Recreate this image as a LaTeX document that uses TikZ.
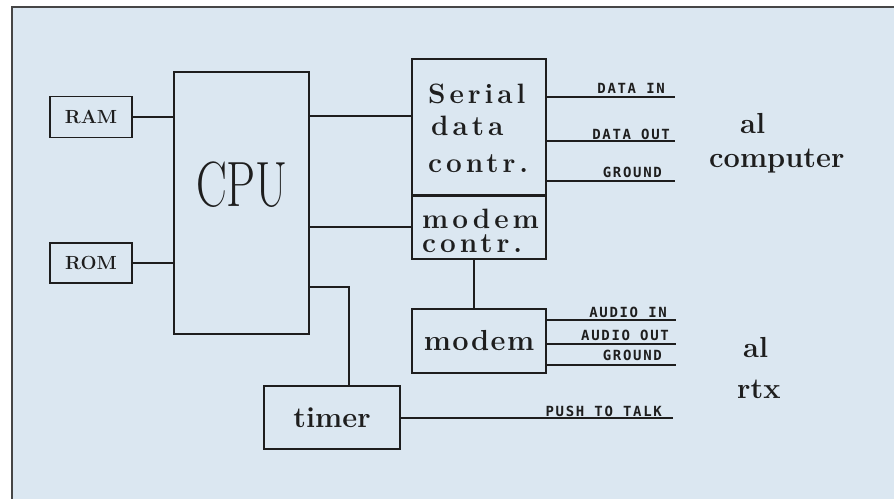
\documentclass[tikz,border=0pt]{standalone}
\usepackage{fontspec}
\usepackage{graphicx}
\setmainfont{Latin Modern Roman}
\newfontfamily\wfont[LetterSpace=14]{Latin Modern Roman}
\newfontfamily\mfont[LetterSpace=5]{Latin Modern Roman}
\newfontfamily\pfont[LetterSpace=12]{DejaVu Sans Mono}
\definecolor{panel}{RGB}{219,231,241}
\definecolor{ink}{RGB}{30,30,30}
\definecolor{frame}{RGB}{70,70,70}
\tikzset{
  box/.style={draw=ink, line width=1.8pt, inner sep=0pt, text=ink},
  wire/.style={draw=ink, line width=2pt},
  sig/.style={font=\pfont\bfseries\fontsize{14}{14}\selectfont, text=ink, inner sep=0pt, anchor=base east},
  wtxt/.style={font=\wfont\bfseries\fontsize{28}{28}\selectfont, text=ink, inner sep=0pt, anchor=base west},
  btxt/.style={font=\bfseries\fontsize{29}{29}\selectfont, text=ink, inner sep=0pt, anchor=base west},
}
\begin{document}
\begin{tikzpicture}[x=1pt,y=-1pt]
\useasboundingbox (0,0) rectangle (894,498);
\fill[white] (0,0) rectangle (894,498);
\filldraw[fill=panel, draw=frame, line width=1.8pt] (12,7) rectangle (905,510);

% boxes
\node[box, minimum width=82pt, minimum height=41pt, font=\bfseries\fontsize{19}{19}\selectfont] (ram) at (91,117) {RAM};
\node[box, minimum width=82pt, minimum height=40pt, font=\bfseries\fontsize{19}{19}\selectfont] (rom) at (91,263) {ROM};
\node[box, minimum width=135pt, minimum height=262pt] (cpu) at (241.5,203) {};
\node[text=ink, inner sep=0pt, font=\fontsize{64}{64}\selectfont] (cputxt) at (242,185) {\scalebox{0.72}[1]{CPU}};
\node[box, minimum width=134pt, minimum height=136pt] (ser) at (479,127) {};
\node[box, minimum width=134pt, minimum height=64pt] (modc) at (479,227) {};
\draw[ink, line width=2.8pt] (ser.south west) -- (ser.south east);
\node[box, minimum width=134pt, minimum height=64pt, font=\mfont\bfseries\fontsize{29}{29}\selectfont] (mdm) at (479,341) {modem};
\node[box, minimum width=136pt, minimum height=63pt, font=\bfseries\fontsize{29}{29}\selectfont] (tim) at (332,417.5) {timer};

% box texts
\node[wtxt] (s1) at (428,103) {Serial};
\node[wtxt] (s2) at (431,135) {data};
\node[wtxt] (s3) at (428,172) {contr.};
\node[font=\wfont\bfseries\fontsize{28}{24}\selectfont, text=ink, inner sep=0pt, anchor=north west, align=left] (mtxt) at (422,208.6) {modem\\contr.};

% connectors
\draw[wire] (ram.east) -- (ram.east -| cpu.west);
\draw[wire] (rom.east) -- (rom.east -| cpu.west);
\draw[wire] ([yshift=-45pt]cpu.north east) -- ([yshift=-45pt]cpu.north east -| ser.west);
\draw[wire] (modc.west -| cpu.east) -- (modc.west);
\draw[wire] ([yshift=48pt]cpu.south east) -| ([xshift=17pt]tim.north);
\draw[wire] ([xshift=-5pt]modc.south) -- ([xshift=-5pt]modc.south |- mdm.north);

% signal lines
\coordinate (din) at (675,97);
\coordinate (dout) at (675,141);
\coordinate (dgnd) at (675,181);
\coordinate (ain) at (676,320);
\coordinate (aout) at (676,344);
\coordinate (agnd) at (676,365);
\coordinate (ptt) at (673,418);
\draw[wire] (din -| ser.east) -- (din);
\draw[wire] (dout -| ser.east) -- (dout);
\draw[wire] (dgnd -| ser.east) -- (dgnd);
\draw[wire] (ain -| mdm.east) -- (ain);
\draw[wire] (aout -| mdm.east) -- (aout);
\draw[wire] (agnd -| mdm.east) -- (agnd);
\draw[wire] (ptt -| tim.east) -- (ptt);

\node[sig] (l1) at (665,93) {DATA IN};
\node[sig] (l2) at (670,139) {DATA OUT};
\node[sig] (l3) at (662,177) {GROUND};
\node[sig] (l4) at (667,317) {AUDIO IN};
\node[sig] (l5) at (669,340) {AUDIO OUT};
\node[sig] (l6) at (662,360) {GROUND};
\node[sig] (l7) at (662,416) {PUSH TO TALK};

% destinations
\node[btxt] (c1) at (740,133) {al};
\node[btxt] (c2) at (709,167) {computer};
\node[btxt] (r1) at (743,357) {al};
\node[btxt] (r2) at (737,398) {rtx};
\end{tikzpicture}
\end{document}
